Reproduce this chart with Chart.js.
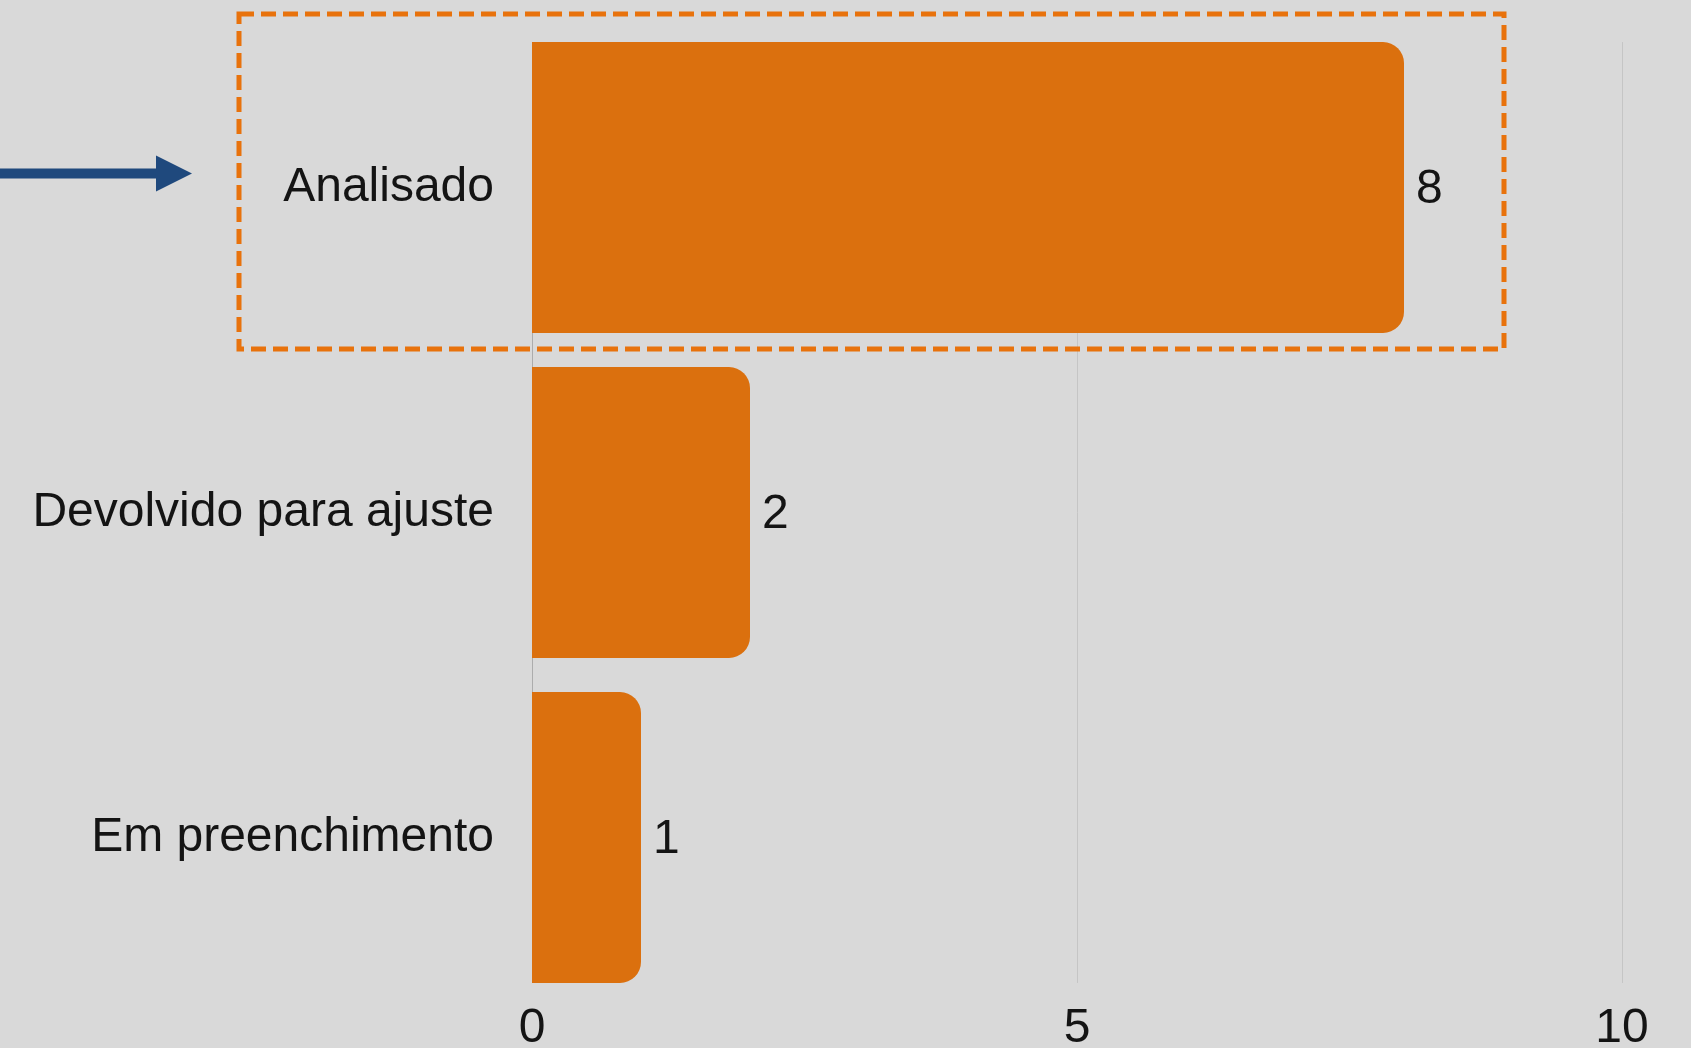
<!DOCTYPE html>
<html>
<head>
<meta charset="utf-8">
<script src="https://cdn.jsdelivr.net/npm/chart.js@4.4.1/dist/chart.umd.min.js"></script>
<style>
  html, body { margin: 0; padding: 0; background: #d9d9d9; }
  #wrap { width: 1691px; height: 1048px; position: relative; }
</style>
</head>
<body>
<div id="wrap"><canvas id="statusChart"></canvas></div>
<script>
// ── DATA ─────────────────────────────────────────────────────
const CATEGORIES = ['Analisado', 'Devolvido para ajuste', 'Em preenchimento'];
const COUNTS     = [8, 2, 1];
const X_TICKS    = [0, 5, 10];
const HIGHLIGHT  = 'Analisado';

const ORANGE  = '#db700e';
const DASH    = '#e8720c';
const NAVY    = '#1f497d';
const TEXT    = '#141414';
const GRID    = '#c5c5c5';
const AXIS    = '#acacac';
const FONT    = "'Liberation Sans', Arial, sans-serif";

// ── GRID LINES (only across the span of the bars) ────────────
const gridPlugin = {
  id: 'shortGrid',
  beforeDatasetsDraw(chart) {
    const ctx = chart.ctx;
    const xS = chart.scales.x;
    const bars = chart.getDatasetMeta(0).data;
    const first = bars[0], last = bars[bars.length - 1];
    const top = first.y - first.height / 2;
    const bottom = last.y + last.height / 2;
    ctx.save();
    ctx.lineWidth = 1;
    X_TICKS.forEach((v, i) => {
      const x = Math.round(xS.getPixelForValue(v)) + 0.5;
      ctx.strokeStyle = i === 0 ? AXIS : GRID;
      ctx.beginPath();
      ctx.moveTo(x, top);
      ctx.lineTo(x, bottom);
      ctx.stroke();
    });
    ctx.restore();
  }
};

// ── VALUE LABELS + HIGHLIGHT BOX / ARROW ─────────────────────
const extrasPlugin = {
  id: 'extras',
  afterDatasetsDraw(chart) {
    const ctx = chart.ctx;
    const meta = chart.getDatasetMeta(0);
    ctx.save();
    ctx.font = '48px ' + FONT;
    ctx.fillStyle = TEXT;
    ctx.textAlign = 'left';
    ctx.textBaseline = 'middle';
    meta.data.forEach((bar, i) => {
      ctx.fillText(String(COUNTS[i]), bar.x + 12, bar.y + 2);
    });
    ctx.restore();
  },
  afterDraw(chart) {
    const ctx = chart.ctx;
    const xS = chart.scales.x, yS = chart.scales.y;
    const idx = CATEGORIES.indexOf(HIGHLIGHT);
    const cy = yS.getPixelForValue(idx);
    const band = Math.abs(yS.getPixelForValue(1) - yS.getPixelForValue(0));

    const left = chart.chartArea.left - 293;
    const right = xS.getPixelForValue(COUNTS[idx]) + 100;
    const top = cy - band / 2 - 11;
    const bottom = cy + band / 2 - 1;

    ctx.save();
    ctx.strokeStyle = DASH;
    ctx.lineWidth = 5;
    ctx.setLineDash([15, 7]);
    ctx.strokeRect(left, top, right - left, bottom - top);
    ctx.restore();

    // arrow pointing at the box
    const tip = left - 47, ay = cy - 14;
    ctx.save();
    ctx.fillStyle = NAVY;
    ctx.fillRect(0, ay - 5, tip - 34, 10);
    ctx.beginPath();
    ctx.moveTo(tip - 36, ay - 18);
    ctx.lineTo(tip, ay);
    ctx.lineTo(tip - 36, ay + 18);
    ctx.closePath();
    ctx.fill();
    ctx.restore();
  }
};

// ── CHART ────────────────────────────────────────────────────
const ctx = document.getElementById('statusChart').getContext('2d');
new Chart(ctx, {
  type: 'bar',
  data: {
    labels: CATEGORIES,
    datasets: [{
      data: COUNTS,
      backgroundColor: ORANGE,
      borderRadius: 21,
      borderSkipped: 'start',
      categoryPercentage: 1,
      barPercentage: 0.895,
    }]
  },
  options: {
    indexAxis: 'y',
    responsive: true,
    maintainAspectRatio: false,
    animation: false,
    layout: { padding: { top: 25, right: 69, left: 0, bottom: 0 } },
    plugins: {
      legend: { display: false },
      tooltip: { enabled: false }
    },
    scales: {
      x: {
        min: X_TICKS[0],
        max: X_TICKS[X_TICKS.length - 1],
        afterBuildTicks: (s) => { s.ticks = X_TICKS.map(v => ({ value: v })); },
        afterFit: (s) => { s.height = 48; s.paddingLeft = 0; s.paddingRight = 0; },
        border: { display: false },
        grid: { display: false, drawTicks: false },
        ticks: { font: { family: FONT, size: 48 }, color: TEXT, padding: 0, maxRotation: 0 }
      },
      y: {
        // keep the label padding from pushing the plot area in
        afterFit: (s) => { s.width = 532; s.paddingTop = 0; s.paddingBottom = 0; },
        border: { display: false },
        grid: { display: false, drawTicks: false },
        ticks: { font: { family: FONT, size: 48 }, color: TEXT, padding: 38 }
      }
    }
  },
  plugins: [gridPlugin, extrasPlugin]
});
</script>
</body>
</html>
